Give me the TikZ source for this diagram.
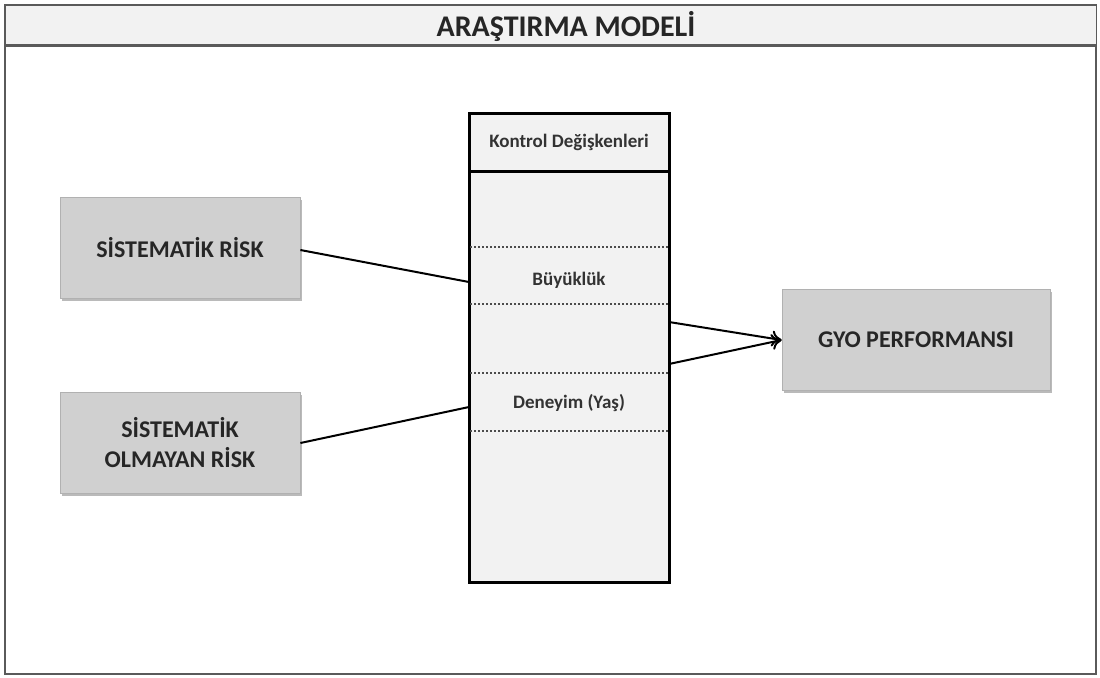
\documentclass[tikz,border=0pt]{standalone}
\usepackage{fontspec}
\setmainfont{Carlito}
\usetikzlibrary{shadows,arrows.meta}
\definecolor{boxgray}{HTML}{D0D0D0}
\definecolor{panel}{HTML}{F2F2F2}
\definecolor{framegray}{HTML}{5A5A5A}
\begin{document}
\begin{tikzpicture}[x=0.5pt,y=-0.5pt,
  riskbox/.style={draw=boxgray!85!black, line width=0.4pt, fill=boxgray, minimum width=120pt, minimum height=50.5pt,
    font=\fontsize{12}{15}\selectfont\bfseries, align=center, text=black!85,
    drop shadow={shadow xshift=1.2pt, shadow yshift=-1.2pt, fill=black!45, opacity=0.6}},
  ctrltext/.style={font=\fontsize{9.5}{11}\selectfont\bfseries, text=black!80},
  dotline/.style={line width=0.9pt, dash pattern=on 1pt off 1pt, draw=black!70},
  conn/.style={line width=1pt, draw=black},
  arr/.style={-{To[length=5pt,width=8pt,line width=1pt]}}
]
\useasboundingbox (0,0) rectangle (1100,677);
% outer frame
\draw[framegray, line width=1.2pt, fill=white] (5,5) rectangle (1096,674);
\fill[panel] (5.5,5.5) rectangle (1095.5,45);
\draw[framegray, line width=1.5pt] (5,45) -- (1096,45);
\node[font=\fontsize{15}{18}\selectfont\bfseries, text=black!85] (title) at (566,26) {ARAŞTIRMA MODELİ};
% risk boxes
\node[riskbox] (sr) at (180,248) {SİSTEMATİK RİSK};
\node[riskbox] (usr) at (180,443) {SİSTEMATİK\\OLMAYAN RİSK};
\node[riskbox, minimum width=134pt] (gyo) at (916,340) {GYO PERFORMANSI};
% control panel
\node[draw=black, line width=1.5pt, fill=panel, minimum width=100pt, minimum height=234.5pt, inner sep=0pt] (ctrl) at (569,347.5) {};
\draw[line width=1.5pt] (469,171) -- (669,171);
\node[ctrltext] (kd) at (569,142) {Kontrol Değişkenleri};
\draw[dotline] (470,247) -- (668,247);
\draw[dotline] (470,304) -- (668,304);
\draw[dotline] (470,373) -- (668,373);
\draw[dotline] (470,431) -- (668,431);
\node[ctrltext] (bk) at (569,280) {Büyüklük};
\node[ctrltext] (dy) at (569,403) {Deneyim (Yaş)};
% connectors
\coordinate (c1) at (469,282);
\coordinate (c2) at (469,407);
\coordinate (c3) at (669,322);
\coordinate (c4) at (669,364);
\draw[conn] (sr.east |- 0,250) -- (c1);
\draw[conn] (usr.east |- 0,443) -- (c2);
\draw[conn, arr] (c3) -- (gyo.west);
\draw[conn, arr] (c4) -- (gyo.west);
\end{tikzpicture}
\end{document}
